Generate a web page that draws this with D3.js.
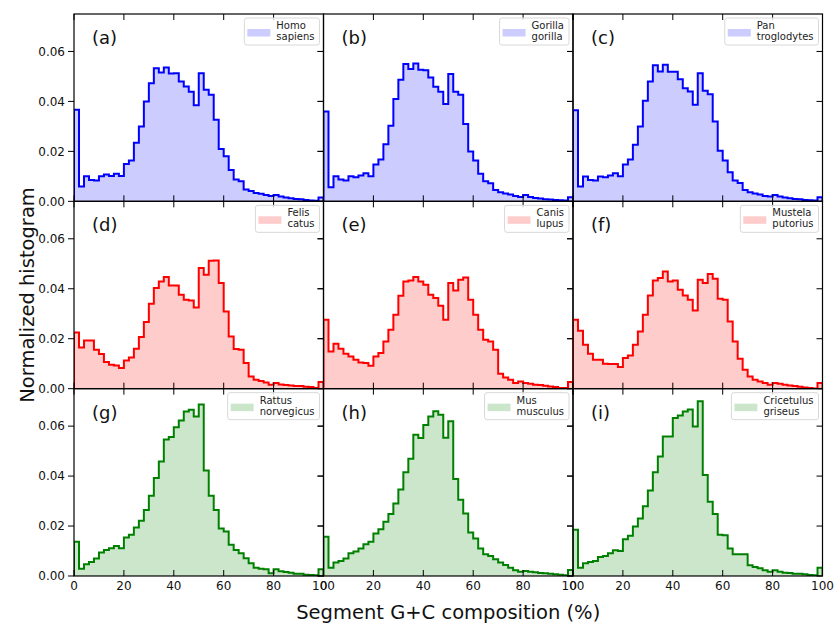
<!DOCTYPE html>
<html><head><meta charset="utf-8">
<script src="https://cdn.jsdelivr.net/npm/d3@7"></script>
<style>body{margin:0;background:#fff} svg{display:block} text{font-family:"DejaVu Sans",sans-serif}</style>
</head><body><svg id="c" width="834" height="624"></svg>
<script>
// ---------- data ----------
const binEdges = [0,2,4,6,8,10,12,14,16,18,20,22,24,26,28,30,32,34,36,38,40,42,44,46,48,50,52,54,56,58,60,62,64,66,68,70,72,74,76,78,80,82,84,86,88,90,92,94,96,98,100];
const xTicks = [0,20,40,60,80,100];
const xTickLabels = ["0","20","40","60","80","100"];
const yTicks = [0,0.02,0.04,0.06];
const yTickLabels = ["0.00","0.02","0.04","0.06"];
const panelLetters = ["(a)","(b)","(c)","(d)","(e)","(f)","(g)","(h)","(i)"];
const speciesNames = [["Homo","sapiens"],["Gorilla","gorilla"],["Pan","troglodytes"],["Felis","catus"],["Canis","lupus"],["Mustela","putorius"],["Rattus","norvegicus"],["Mus","musculus"],["Cricetulus","griseus"]];
const homoSapiens = [0.0367,0.0059,0.0100,0.0085,0.0083,0.0100,0.0107,0.0101,0.0110,0.0101,0.0149,0.0163,0.0235,0.0300,0.0400,0.0473,0.0533,0.0516,0.0536,0.0512,0.0513,0.0480,0.0460,0.0439,0.0385,0.0513,0.0447,0.0427,0.0327,0.0210,0.0180,0.0125,0.0087,0.0080,0.0047,0.0041,0.0033,0.0030,0.0025,0.0021,0.0025,0.0019,0.0015,0.0012,0.0009,0.0008,0.0005,0.0003,0.0002,0.0015];
const gorillaGorilla = [0.0360,0.0056,0.0100,0.0087,0.0083,0.0100,0.0096,0.0103,0.0112,0.0100,0.0147,0.0167,0.0229,0.0303,0.0410,0.0487,0.0550,0.0530,0.0552,0.0527,0.0525,0.0496,0.0459,0.0439,0.0390,0.0510,0.0439,0.0427,0.0310,0.0200,0.0163,0.0110,0.0080,0.0072,0.0045,0.0036,0.0031,0.0027,0.0021,0.0017,0.0025,0.0017,0.0013,0.0011,0.0008,0.0007,0.0005,0.0004,0.0003,0.0016];
const panTroglodytes = [0.0365,0.0059,0.0099,0.0085,0.0083,0.0099,0.0096,0.0103,0.0112,0.0100,0.0147,0.0167,0.0227,0.0300,0.0403,0.0480,0.0545,0.0520,0.0547,0.0519,0.0519,0.0489,0.0453,0.0440,0.0387,0.0513,0.0443,0.0429,0.0320,0.0203,0.0163,0.0116,0.0083,0.0073,0.0045,0.0036,0.0031,0.0027,0.0021,0.0019,0.0025,0.0019,0.0015,0.0012,0.0009,0.0008,0.0005,0.0004,0.0003,0.0016];
const felisCatus = [0.0225,0.0165,0.0193,0.0193,0.0156,0.0139,0.0107,0.0096,0.0093,0.0083,0.0113,0.0125,0.0160,0.0207,0.0267,0.0340,0.0403,0.0429,0.0447,0.0413,0.0413,0.0376,0.0356,0.0353,0.0325,0.0483,0.0456,0.0512,0.0513,0.0423,0.0309,0.0209,0.0159,0.0156,0.0103,0.0049,0.0036,0.0031,0.0025,0.0016,0.0023,0.0017,0.0015,0.0013,0.0011,0.0011,0.0008,0.0007,0.0003,0.0027];
const canisLupus = [0.0276,0.0149,0.0180,0.0160,0.0140,0.0129,0.0116,0.0105,0.0103,0.0092,0.0129,0.0143,0.0189,0.0236,0.0296,0.0372,0.0429,0.0433,0.0447,0.0429,0.0416,0.0376,0.0363,0.0332,0.0276,0.0423,0.0393,0.0436,0.0445,0.0356,0.0296,0.0236,0.0196,0.0189,0.0156,0.0060,0.0045,0.0036,0.0023,0.0029,0.0023,0.0020,0.0016,0.0015,0.0012,0.0009,0.0007,0.0003,0.0003,0.0027];
const mustelaPutorius = [0.0276,0.0232,0.0176,0.0140,0.0116,0.0116,0.0100,0.0099,0.0099,0.0087,0.0123,0.0133,0.0176,0.0229,0.0296,0.0373,0.0433,0.0443,0.0469,0.0429,0.0433,0.0396,0.0373,0.0356,0.0313,0.0436,0.0423,0.0459,0.0440,0.0360,0.0356,0.0269,0.0189,0.0120,0.0076,0.0049,0.0036,0.0029,0.0023,0.0016,0.0023,0.0020,0.0016,0.0013,0.0011,0.0008,0.0005,0.0003,0.0001,0.0023];
const rattusNorvegicus = [0.0137,0.0029,0.0047,0.0056,0.0070,0.0094,0.0104,0.0111,0.0120,0.0111,0.0154,0.0165,0.0194,0.0221,0.0264,0.0321,0.0392,0.0458,0.0546,0.0556,0.0596,0.0623,0.0659,0.0666,0.0639,0.0687,0.0422,0.0321,0.0264,0.0190,0.0178,0.0125,0.0104,0.0091,0.0071,0.0051,0.0033,0.0029,0.0027,0.0011,0.0027,0.0019,0.0016,0.0013,0.0009,0.0009,0.0005,0.0004,0.0003,0.0027];
const musMusculus = [0.0157,0.0033,0.0054,0.0060,0.0070,0.0091,0.0098,0.0110,0.0127,0.0137,0.0170,0.0187,0.0217,0.0248,0.0290,0.0346,0.0415,0.0469,0.0565,0.0552,0.0605,0.0639,0.0660,0.0646,0.0553,0.0620,0.0388,0.0305,0.0250,0.0174,0.0150,0.0110,0.0087,0.0080,0.0067,0.0054,0.0044,0.0033,0.0023,0.0017,0.0020,0.0017,0.0015,0.0012,0.0011,0.0009,0.0007,0.0005,0.0003,0.0024];
const cricetulusGriseus = [0.0185,0.0033,0.0051,0.0056,0.0060,0.0076,0.0080,0.0091,0.0103,0.0100,0.0147,0.0161,0.0198,0.0230,0.0279,0.0342,0.0415,0.0478,0.0558,0.0558,0.0633,0.0643,0.0659,0.0667,0.0599,0.0700,0.0404,0.0297,0.0248,0.0165,0.0163,0.0110,0.0087,0.0087,0.0087,0.0043,0.0036,0.0031,0.0023,0.0017,0.0023,0.0017,0.0013,0.0012,0.0009,0.0009,0.0007,0.0004,0.0003,0.0033];
const seriesList = [homoSapiens,gorillaGorilla,panTroglodytes,felisCatus,canisLupus,mustelaPutorius,rattusNorvegicus,musMusculus,cricetulusGriseus];
const rowLineColors = ["#0000ff","#ff0000","#008000"];
const rowFillColors = ["#ccccff","#ffcccc","#cce6cc"];

// ---------- layout ----------
const svg = d3.select("#c");
const leftX = 74, topY = 14, colW = 249.5, rowH = 187.33;
const tickLen = 6;

seriesList.forEach((vals, k) => {
  const r = Math.floor(k / 3), c = k % 3;
  const x0 = leftX + c * colW, y0 = topY + r * rowH;
  const x = d3.scaleLinear().domain([0, 100]).range([x0, x0 + colW]);
  const y = d3.scaleLinear().domain([0, 0.075]).range([y0 + rowH, y0]);
  const g = svg.append("g");
  const clipId = "clip" + k;
  svg.append("clipPath").attr("id", clipId).append("rect")
    .attr("x", x0).attr("y", y0).attr("width", colW).attr("height", rowH);

  const pts = [[binEdges[0], 0]];
  vals.forEach((v, i) => { pts.push([binEdges[i], v]); pts.push([binEdges[i + 1], v]); });
  pts.push([binEdges[binEdges.length - 1], 0]);

  const area = d3.area().x(d => x(d[0])).y0(y(0)).y1(d => y(d[1]));
  const line = d3.line().x(d => x(d[0])).y(d => y(d[1]));
  const pg = g.append("g").attr("clip-path", `url(#${clipId})`);
  pg.append("path").attr("d", area(pts)).attr("fill", rowFillColors[r]);
  pg.append("path").attr("d", line(pts)).attr("fill", "none")
    .attr("stroke", rowLineColors[r]).attr("stroke-width", 2).attr("stroke-linejoin", "miter");

  const tk = g.append("g").attr("stroke", "#000").attr("stroke-width", 1);
  xTicks.forEach(t => {
    tk.append("line").attr("x1", x(t)).attr("x2", x(t)).attr("y1", y0).attr("y2", y0 + tickLen);
    tk.append("line").attr("x1", x(t)).attr("x2", x(t)).attr("y1", y0 + rowH).attr("y2", y0 + rowH - tickLen);
  });
  yTicks.forEach(t => {
    tk.append("line").attr("x1", x0 - tickLen).attr("x2", x0).attr("y1", y(t)).attr("y2", y(t));
    tk.append("line").attr("x1", x0 + colW - tickLen).attr("x2", x0 + colW).attr("y1", y(t)).attr("y2", y(t));
  });

  g.append("rect").attr("x", x0).attr("y", y0).attr("width", colW).attr("height", rowH)
    .attr("fill", "none").attr("stroke", "#000").attr("stroke-width", 1.2);

  if (c === 0) {
    yTicks.forEach((t, i) => {
      g.append("text").attr("x", x0 - tickLen - 3).attr("y", y(t)).attr("dy", "0.36em")
        .attr("text-anchor", "end").attr("font-size", 12).attr("fill", "#111").text(yTickLabels[i]);
    });
  }
  if (r === 2) {
    xTicks.forEach((t, i) => {
      g.append("text").attr("x", x(t)).attr("y", y0 + rowH + 5).attr("dy", "0.76em")
        .attr("text-anchor", "middle").attr("font-size", 12).attr("fill", "#111").text(xTickLabels[i]);
    });
  }

  g.append("text").attr("x", x0 + 18).attr("y", y0 + 30).attr("font-size", 18)
    .attr("fill", "#111").text(panelLetters[k]);

  const lg = g.append("g");
  const names = speciesNames[k];
  const tmp = lg.append("g");
  const tNodes = names.map(n => tmp.append("text").attr("font-size", 10).text(n));
  const tw = d3.max(tNodes, t => t.node().getComputedTextLength());
  tmp.remove();
  const boxW = 3 + 23 + 6 + tw + 5, boxH = 27;
  const bx = x0 + colW - 4 - boxW, by = y0 + 4;
  lg.append("rect").attr("x", bx).attr("y", by).attr("width", boxW).attr("height", boxH)
    .attr("rx", 2.5).attr("fill", "#fff").attr("fill-opacity", 0.8)
    .attr("stroke", "#d8d8d8").attr("stroke-width", 1);
  lg.append("rect").attr("x", bx + 3).attr("y", by + 11).attr("width", 23).attr("height", 7.5)
    .attr("fill", rowFillColors[r]);
  names.forEach((n, i) => {
    lg.append("text").attr("x", bx + 32).attr("y", by + 11 + i * 11).attr("font-size", 10)
      .attr("fill", "#222").text(n);
  });
});

svg.append("text").attr("x", leftX + 1.5 * colW).attr("y", 619).attr("text-anchor", "middle")
  .attr("font-size", 19.5).attr("fill", "#111").text("Segment G+C composition (%)");
svg.append("text").attr("transform", `translate(34,${topY + 1.5 * rowH}) rotate(-90)`)
  .attr("text-anchor", "middle").attr("font-size", 19.5).attr("fill", "#111").text("Normalized histogram");
</script></body></html>
